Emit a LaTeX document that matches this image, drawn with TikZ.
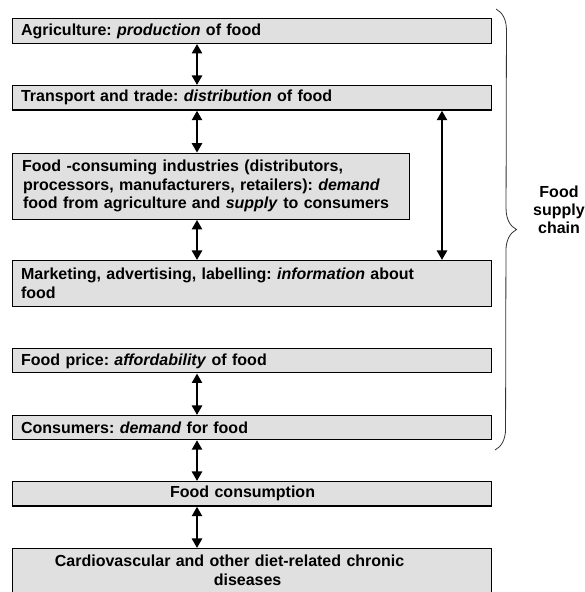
\documentclass[tikz,border=0pt]{standalone}
\usepackage{fontspec}
\setmainfont{Liberation Sans}
\usetikzlibrary{arrows.meta,decorations.pathreplacing}
\definecolor{BoxClr}{rgb}{0.878,0.878,0.878}
\definecolor{BraceClr}{rgb}{0.2,0.2,0.2}
\frenchspacing

\begin{document}
\begin{tikzpicture}[x=1pt,y=1pt,
  box/.style={draw=black,line width=1.2pt,fill=BoxClr,anchor=north west,inner xsep=8.5pt,inner ysep=2pt,text width=462pt,align=left,minimum height=24.5pt,font=\fontsize{16}{18.5}\selectfont\bfseries},
  link/.style={line width=2.7pt,{Triangle[width=10pt,length=9.5pt]}-{Triangle[width=10pt,length=9.5pt]}}]
\useasboundingbox (0,0) rectangle (585,592);

\coordinate (spine) at (197,0);
\coordinate (side) at (442,0);

\node[box] (agri) at (12,573.7) {Agriculture: \textit{production} of food};
\node[box] (trade) at (12,507) {Transport and trade: \textit{distribution} of food};
\node[box,text width=378pt,inner xsep=9.5pt,minimum height=66pt] (industry) at (12,439.3) {Food -consuming industries (distributors,\\ \hspace*{1pt}processors, manufacturers, retailers): \textit{demand}\\ \hspace*{1pt}food from agriculture and \textit{supply} to consumers};
\node[box,minimum height=45.7pt] (market) at (12,332) {Marketing, advertising, labelling: \textit{information} about\\food};
\node[box,minimum height=24pt] (price) at (12,243.7) {Food price: \textit{affordability} of food};
\node[box,minimum height=24pt] (consumer) at (12,177) {Consumers: \textit{demand} for food};
\node[box,align=center] (intake) at (12,111) {Food consumption\hspace{19pt}\mbox{}};
\node[box,align=center,minimum height=43.7pt] (disease) at (12,44) {Cardiovascular and other diet-related chronic\hspace{45pt}\mbox{}\\diseases\hspace{9pt}\mbox{}};

\draw[link] (agri.south -| spine) -- (trade.north -| spine);
\draw[link] (trade.south -| spine) -- (industry.north -| spine);
\draw[link] (industry.south -| spine) -- (market.north -| spine);
\draw[link] (price.south -| spine) -- (consumer.north -| spine);
\draw[link] (consumer.south -| spine) -- (intake.north -| spine);
\draw[link] (intake.south -| spine) -- (disease.north -| spine);
\draw[link] (trade.south -| side) -- (market.north -| side);

\draw[decorate,decoration={brace,amplitude=21pt},line width=0.8pt,color=BraceClr] (496,583) -- (495,142);
\node[align=center,font=\fontsize{16}{18}\selectfont\bfseries] (chain) at (559,382.5) {Food\\supply\\chain};

\end{tikzpicture}
\end{document}
